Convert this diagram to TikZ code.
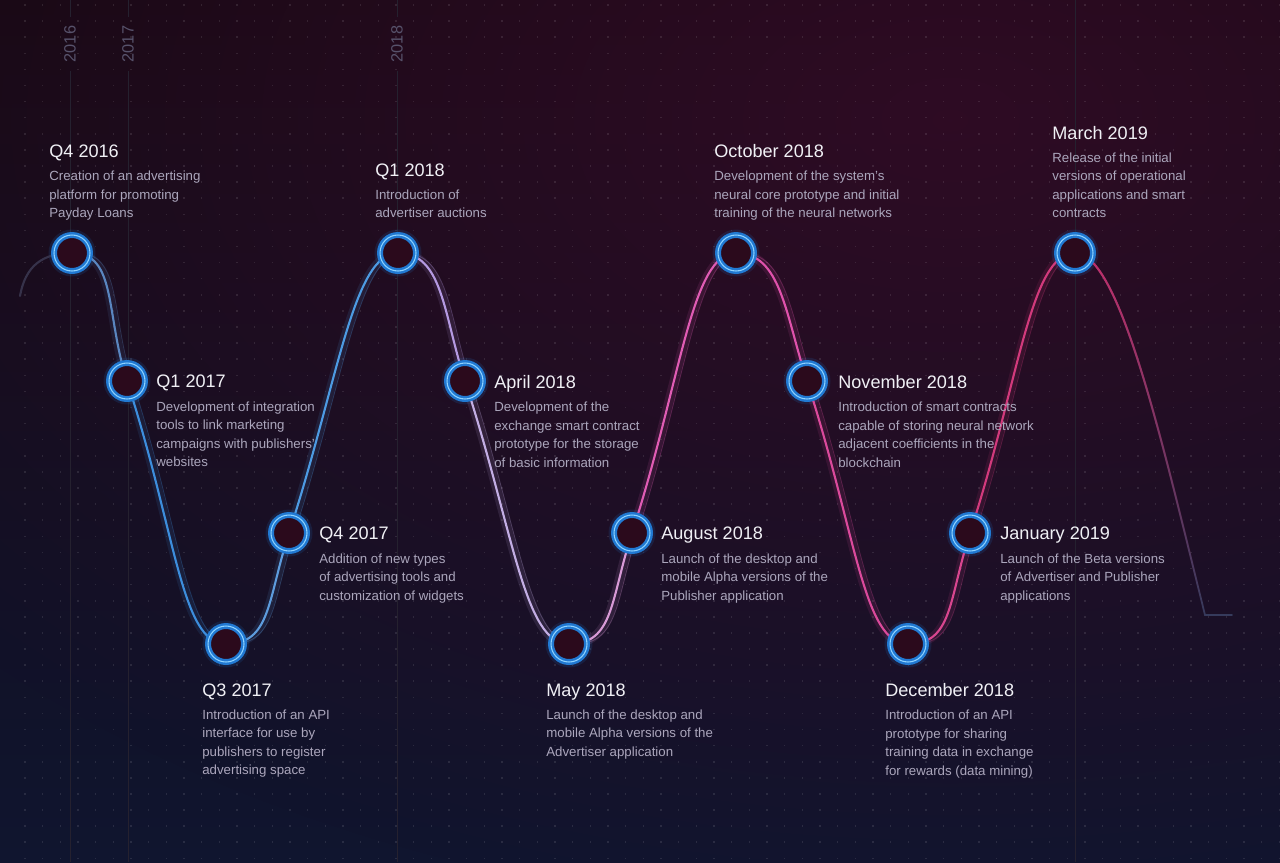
\documentclass[tikz,border=0pt]{standalone}
\usepackage{fontspec}
\setmainfont{Liberation Sans}
\usepackage{xcolor}
\usepackage{tikz}
\usetikzlibrary{positioning, fadings}

\definecolor{bgtop}{HTML}{130912}
\definecolor{bgbot}{HTML}{10152F}
\definecolor{glowred}{HTML}{3A0C2A}
\definecolor{dotin}{HTML}{2B0A1C}
\definecolor{ringblue}{HTML}{2179D2}
\definecolor{ringlight}{HTML}{8FD3FF}
\definecolor{titlecol}{HTML}{F0F0F5}
\definecolor{bodycol}{HTML}{ABA6BC}
\definecolor{yearcol}{HTML}{57526B}
\definecolor{ylinecol}{HTML}{25212F}
\definecolor{wstart}{HTML}{36324A}
\definecolor{w1}{HTML}{5A86C0}
\definecolor{w2}{HTML}{3D8EDD}
\definecolor{w3}{HTML}{5D9CDD}
\definecolor{w4}{HTML}{4D9BE3}
\definecolor{w5}{HTML}{B59AE2}
\definecolor{w6}{HTML}{C3AEE4}
\definecolor{w7}{HTML}{D89AD6}
\definecolor{w8}{HTML}{E05CB4}
\definecolor{w9}{HTML}{E052AC}
\definecolor{w10}{HTML}{DB4A9C}
\definecolor{w11}{HTML}{D8468F}
\definecolor{w12}{HTML}{D23A7C}
\definecolor{w13}{HTML}{C2306C}
\definecolor{tailgray}{HTML}{363B5C}

\tikzfading[name=glowfade, inner color=transparent!0, outer color=transparent!100]

\pgfdeclarelayer{back}
\pgfsetlayers{back,main}

\newcommand{\evtitle}[1]{{\fontsize{10.3}{12}\selectfont\color{titlecol}#1}}

\begin{document}
\begin{tikzpicture}[x=0.02cm, y=0.02cm,
        dot/.style={circle, minimum size=0.72cm, inner sep=0pt, fill=dotin, draw=ringblue, line width=1.4pt, double=ringlight, double distance=0.6pt},
        evt/.style={align=left, inner sep=0pt, font=\fontsize{7.55}{10.5}\selectfont, text=bodycol, execute at end node=\strut},
        year/.style={rotate=90, inner sep=5pt, font=\fontsize{9.3}{11}\selectfont, text=yearcol},
        yline/.style={draw=ylinecol, line width=0.5pt},
        dotrow/.style={draw=white, opacity=0.1, line width=0.9pt, dash pattern=on 0.024cm off 0.3294cm},
        wave/.style={line width=1.2pt, line cap=round},
        segA/.style={out=0, in=108, out distance=0.9cm, in distance=1.4cm},
        segB/.style={out=-72, in=180, out distance=3.2cm, in distance=0.9cm},
        segC/.style={out=0, in=-108, out distance=0.9cm, in distance=1.4cm},
        segD/.style={out=72, in=180, out distance=3.2cm, in distance=0.9cm}
    ]
    \useasboundingbox (0,0) rectangle (1280,-862);

    % milestones on the wave
    \node[dot] (q416) at (72,-253) {};
    \node[dot] (q117) at (127,-381) {};
    \node[dot] (q317) at (226,-644) {};
    \node[dot] (q417) at (289,-533) {};
    \node[dot] (q118) at (398,-253) {};
    \node[dot] (apr18) at (465,-381) {};
    \node[dot] (may18) at (569,-644) {};
    \node[dot] (aug18) at (632,-533) {};
    \node[dot] (oct18) at (736,-253) {};
    \node[dot] (nov18) at (807,-381) {};
    \node[dot] (dec18) at (908,-644) {};
    \node[dot] (jan19) at (970,-533) {};
    \node[dot] (mar19) at (1075,-253) {};
    \coordinate (wbegin) at (20,-296);
    \coordinate (tailend) at (1205,-615);
    \coordinate (tailstop) at (1232,-615);

    % year marks
    \node[year] (y16) at (70,-44) {2016};
    \node[year] (y17) at (128,-44) {2017};
    \node[year] (y18) at (397,-44) {2018};

    \begin{pgfonlayer}{back}
        \shade[top color=bgtop, bottom color=bgbot] (0,0) rectangle (1280,-862);
        \fill[glowred, path fading=glowfade, fill opacity=0.7] (950,-120) ellipse (1300 and 800);
        \foreach \k in {0,...,53}
            \draw[dotrow] (24.4,{-5-16.1*\k}) -- (1280,{-5-16.1*\k});

        \foreach \y in {y16,y17,y18} {
            \draw[yline] (\y.east) -- (\y.east |- 0,0);
            \draw[yline] (\y.west) -- (\y.west |- 0,-862);
        }
        \draw[yline] (1075,0) -- (1075,-862);

        \foreach \n in {q416,q117,q317,q417,q118,apr18,may18,aug18,oct18,nov18,dec18,jan19,mar19}
            \fill[ringblue, opacity=0.15] (\n.center) circle (0.47cm);

        % the wave
        \draw[wave, draw=wstart] (wbegin) to[out=80, in=180, out distance=0.6cm, in distance=0.6cm] (q416.center);
        \foreach \a/\b/\s/\c in {q416/q117/segA/w1, q117/q317/segB/w2, q317/q417/segC/w3, q417/q118/segD/w4,
                q118/apr18/segA/w5, apr18/may18/segB/w6, may18/aug18/segC/w7, aug18/oct18/segD/w8,
                oct18/nov18/segA/w9, nov18/dec18/segB/w10, dec18/jan19/segC/w11, jan19/mar19/segD/w12} {
            \draw[wave, draw=\c, line width=5pt, opacity=0.12] (\a.center) to[\s] (\b.center);
            \draw[wave, draw=\c, line width=0.5pt, opacity=0.3] ([xshift=3pt]\a.center) to[\s] ([xshift=3pt]\b.center);
            \draw[wave, draw=\c] (\a.center) to[\s] (\b.center);
        }
        \draw[wave, draw=tailgray, line width=1pt] (mar19.center) to[out=0, in=104, out distance=0.9cm, in distance=3.5cm] (tailend) -- (tailstop);
        \draw[wave, draw=w13, path fading=south] (mar19.center) to[out=0, in=104, out distance=0.9cm, in distance=3.5cm] (tailend);
    \end{pgfonlayer}

    % texts above the peaks
    \node[evt, anchor=south west] (t416) at ([shift={(-23,29.4)}]q416.center) {\evtitle{Q4 2016}\\[2.7pt]Creation of an advertising\\platform for promoting\\Payday Loans};
    \node[evt, anchor=south west] (t118) at ([shift={(-23,29.4)}]q118.center) {\evtitle{Q1 2018}\\[2.7pt]Introduction of\\advertiser auctions};
    \node[evt, anchor=south west] (toct18) at ([shift={(-22,29.4)}]oct18.center) {\evtitle{October 2018}\\[2.7pt]Development of the system's\\neural core prototype and initial\\training of the neural networks};
    \node[evt, anchor=south west] (tmar19) at ([shift={(-23,29.4)}]mar19.center) {\evtitle{March 2019}\\[2.7pt]Release of the initial\\versions of operational\\applications and smart\\contracts};

    % texts beside the slopes
    \node[evt, anchor=north west] (t117) at ([shift={(29,6)}]q117.center) {\evtitle{Q1 2017}\\[2.7pt]Development of integration\\tools to link marketing\\campaigns with publishers'\\websites};
    \node[evt, anchor=north west] (t417) at ([shift={(30,6)}]q417.center) {\evtitle{Q4 2017}\\[2.7pt]Addition of new types\\of advertising tools and\\customization of widgets};
    \node[evt, anchor=north west] (tapr18) at ([shift={(29,6)}]apr18.center) {\evtitle{April 2018}\\[2.7pt]Development of the\\exchange smart contract\\prototype for the storage\\of basic information};
    \node[evt, anchor=north west] (taug18) at ([shift={(29,6)}]aug18.center) {\evtitle{August 2018}\\[2.7pt]Launch of the desktop and\\mobile Alpha versions of the\\Publisher application};
    \node[evt, anchor=north west] (tnov18) at ([shift={(31,6)}]nov18.center) {\evtitle{November 2018}\\[2.7pt]Introduction of smart contracts\\capable of storing neural network\\adjacent coefficients in the\\blockchain};
    \node[evt, anchor=north west] (tjan19) at ([shift={(30,6)}]jan19.center) {\evtitle{January 2019}\\[2.7pt]Launch of the Beta versions\\of Advertiser and Publisher\\applications};

    % texts below the valleys
    \node[evt, anchor=north west] (t317) at ([shift={(-24,-39.3)}]q317.center) {\evtitle{Q3 2017}\\[2.7pt]Introduction of an API\\interface for use by\\publishers to register\\advertising space};
    \node[evt, anchor=north west] (tmay18) at ([shift={(-23,-39.3)}]may18.center) {\evtitle{May 2018}\\[2.7pt]Launch of the desktop and\\mobile Alpha versions of the\\Advertiser application};
    \node[evt, anchor=north west] (tdec18) at ([shift={(-23,-39.3)}]dec18.center) {\evtitle{December 2018}\\[2.7pt]Introduction of an API\\prototype for sharing\\training data in exchange\\for rewards (data mining)};
\end{tikzpicture}
\end{document}
